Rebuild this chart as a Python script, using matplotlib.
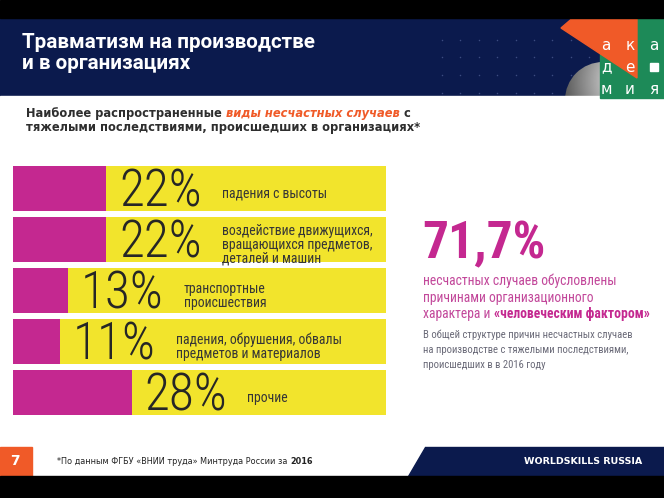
import matplotlib
matplotlib.use("Agg")
import matplotlib.pyplot as plt
import numpy as np
from matplotlib import font_manager
from matplotlib.patches import Rectangle, Polygon, Circle

# данные слайда
categories = [
    'падения с высоты',
    'воздействие движущихся,\nвращающихся предметов,\nдеталей и машин',
    'транспортные\nпроисшествия',
    'падения, обрушения, обвалы\nпредметов и материалов',
    'прочие',
]
shares = [22, 22, 13, 11, 28]

title_lines = ['Травматизм на производстве', 'и в организациях']
subtitle_parts = ['Наиболее распространенные ', 'виды несчастных случаев', ' с']
subtitle_line2 = 'тяжелыми последствиями, происшедших в организациях*'
headline = '71,7%'
headline_lines = ['несчастных случаев обусловлены', 'причинами организационного']
headline_last = ['характера и ', '«человеческим фактором»']
note_lines = ['В общей структуре причин несчастных случаев',
              'на производстве с тяжелыми последствиями,',
              'происшедших в в 2016 году']
footnote = ['*По данным ФГБУ «ВНИИ труда» Минтруда России за ', '2016']
page_no = '7'
brand = 'WORLDSKILLS RUSSIA'
logo_rows = [['а', 'к', 'а'], ['д', 'е', ''], ['м', 'и', 'я']]

NAVY = '#0b1a4d'
MAGENTA = '#c42890'
YELLOW = '#f2e42c'
ORANGE = '#f05a28'
GREEN = '#1d8a58'
DARK = '#2e2e2e'

available = {f.name for f in font_manager.fontManager.ttflist}


def pick(*names):
    for n in names:
        if n in available:
            return n
    return 'DejaVu Sans'


NARROW = pick('Roboto Condensed', 'Liberation Sans Narrow', 'DejaVu Sans')
TITLE_FONT = pick('Roboto', 'Inter', 'DejaVu Sans')

fig = plt.figure(figsize=(6.64, 4.98), dpi=100)
fig.patch.set_facecolor('white')

# фон в пиксельных координатах
bg = fig.add_axes([0, 0, 1, 1])
bg.axis('off')

bg.add_patch(Rectangle((0, 18), 664, 78, color=NAVY, zorder=1))
gx, gy = np.meshgrid(np.arange(442, 590, 18.4), [40, 57, 75, 93])
bg.scatter(gx.ravel(), gy.ravel(), s=1.2, color='#3c4c80', zorder=2, linewidths=0)

# серая сфера логотипа
yy, xx = np.mgrid[0:1:200j, 0:1:200j]
shade = 1 - 0.75 * np.hypot(xx - 0.85, yy - 0.25)
im = bg.imshow(shade, cmap='gray', vmin=0, vmax=1, extent=(565, 641, 138, 62),
               aspect='auto', zorder=2)
im.set_clip_path(Circle((603, 100), 38, transform=bg.transData))
bg.add_patch(Rectangle((0, 96), 664, 351, color='white', zorder=3))

bg.add_patch(Rectangle((600, 19), 64, 79, color=GREEN, zorder=4))
bg.add_patch(Polygon([(561, 28), (575, 16), (637, 16), (637, 78)], closed=True,
                     color=ORANGE, zorder=5))
for r, row in enumerate(logo_rows):
    for c, ch in enumerate(row):
        x, y = 606 + c * 24, 45 + r * 22
        if ch:
            bg.text(x, y, ch, color='white', fontsize=11, family='DejaVu Sans',
                    ha='center', va='center', zorder=6)
        else:
            bg.add_patch(Rectangle((x - 4, y - 4), 8, 8, color='white', zorder=6))

bg.add_patch(Rectangle((0, 0), 664, 18, color='black', zorder=7))
bg.add_patch(Rectangle((0, 476), 664, 22, color='black', zorder=7))

# заголовок
for i, line in enumerate(title_lines):
    bg.text(22, 48 + i * 21, line, color='white', fontsize=14.9, fontweight='bold',
            family=TITLE_FONT, va='baseline', zorder=8)

# подзаголовок
sub_kw = dict(fontsize=8.3, fontweight='bold', family='DejaVu Sans')
t = bg.text(26, 116.5, subtitle_parts[0], color=DARK, va='baseline', zorder=8, **sub_kw)
t = bg.annotate(subtitle_parts[1], xy=(1, 0), xycoords=t, va='bottom', color=ORANGE,
                style='italic', zorder=8, **sub_kw)
bg.annotate(subtitle_parts[2], xy=(1, 0), xycoords=t, va='bottom', color=DARK,
            zorder=8, **sub_kw)
bg.text(26, 130.5, subtitle_line2, color=DARK, va='baseline', zorder=8, **sub_kw)

# правый блок
bg.text(422, 258, headline, color=MAGENTA, fontsize=37, fontweight='bold',
        family=NARROW, va='baseline', zorder=8)
for i, line in enumerate(headline_lines):
    bg.text(423, 285 + i * 16.5, line, color='#c2479a', fontsize=9.8,
            family=NARROW, va='baseline', zorder=8)
t = bg.text(423, 318, headline_last[0], color='#c2479a', fontsize=9.8,
            family=NARROW, va='baseline', zorder=8)
bg.annotate(headline_last[1], xy=(1, 0), xycoords=t, va='bottom', color=MAGENTA,
            fontsize=9.8, fontweight='bold', family=NARROW, zorder=8)
for i, line in enumerate(note_lines):
    bg.text(423, 338 + i * 15, line, color='#6a6a78', fontsize=7.7,
            family=NARROW, va='baseline', zorder=8)

# подвал
bg.add_patch(Rectangle((0, 447), 32, 29, color=ORANGE, zorder=4))
bg.text(15, 461, page_no, color='white', fontsize=10, fontweight='bold',
        family='DejaVu Sans', ha='center', va='center', zorder=8)
t = bg.text(57, 461, footnote[0], color='#222222', fontsize=5.9, family='DejaVu Sans',
            va='center', zorder=8)
bg.annotate(footnote[1], xy=(1, 0), xycoords=t, va='bottom', color='#222222',
            fontsize=5.9, fontweight='bold', family='DejaVu Sans', zorder=8)
bg.add_patch(Polygon([(425, 447), (664, 447), (664, 476), (408, 476)], closed=True,
                     color=NAVY, zorder=4))
bg.text(642, 461, brand, color='white', fontsize=6.8, fontweight='bold',
        family='DejaVu Sans', ha='right', va='center', zorder=8)

bg.set_xlim(0, 664)
bg.set_ylim(498, 0)

# полосы с долями
ax = fig.add_axes([13 / 664, 1 - 415 / 498, 373 / 664, 249 / 498])
ax.set_facecolor('none')
strip_end = 88
pos = np.arange(len(shares))
vals = np.array(shares)
ax.barh(pos, strip_end - vals, left=vals, height=0.88, color=YELLOW)
ax.barh(pos, vals, height=0.88, color=MAGENTA)
ax.set_xlim(0, strip_end)
ax.set_ylim(len(shares) - 0.56, -0.44)
ax.axis('off')

cap = 0.711 * 37 * 100 / 72
for i, (v, lab) in enumerate(zip(shares, categories)):
    pt = ax.annotate(f'{v}%', xy=(v, i), xytext=(13, -cap / 2), textcoords='offset pixels',
                     fontsize=37, fontweight='light', family=NARROW, color='#262626',
                     va='baseline')
    ax.annotate(lab, xy=(1, 0.5), xycoords=pt, xytext=(20, -1), textcoords='offset pixels',
                fontsize=9.9, family=NARROW, color='#363636',
                va='center', linespacing=0.98)

fig.savefig('out.png', dpi=100)
